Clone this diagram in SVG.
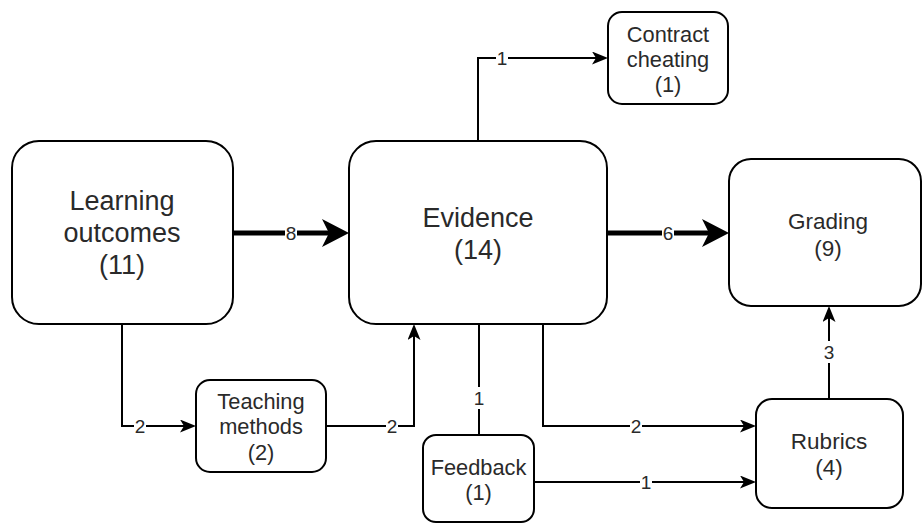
<svg xmlns="http://www.w3.org/2000/svg" width="923" height="524" viewBox="0 0 923 524">
  <style>
    .node rect { fill: #ffffff; stroke: #000000; stroke-width: 2; }
    .node text { font-family: "Liberation Sans", Arial, sans-serif; fill: #2a2a2a; text-anchor: middle; }
    .big { font-size: 27px; }
    .mid { font-size: 22.5px; }
    .small { font-size: 21.8px; }
    .edge { fill: none; stroke: #000000; stroke-width: 2; }
    .edge.thick { stroke-width: 5; }
    .lbl-bg { fill: #ffffff; }
    .lbl { font-family: "Liberation Sans", Arial, sans-serif; font-size: 19px; fill: #2a2a2a; text-anchor: middle; }
  </style>
  <defs>
    <marker id="arrow" viewBox="0 0 16 13" refX="4" refY="6.5" markerWidth="16" markerHeight="13" markerUnits="userSpaceOnUse" orient="auto">
      <path d="M0,0 L16,6.5 L0,13 L4,6.5 Z" fill="#000000"/>
    </marker>
    <marker id="arrow-thick" viewBox="0 0 27 28" refX="7" refY="14" markerWidth="27" markerHeight="28" markerUnits="userSpaceOnUse" orient="auto">
      <path d="M0,0 L27,14 L0,28 L7,14 Z" fill="#000000"/>
    </marker>
  </defs>

  <rect width="923" height="524" fill="#ffffff"/>

  <!-- connectors -->
  <g id="connectors">
    <path class="edge thick" d="M233,233 H329" marker-end="url(#arrow-thick)"/>
    <path class="edge thick" d="M607,233 H709" marker-end="url(#arrow-thick)"/>
    <path class="edge" d="M478,141 V58 H596" marker-end="url(#arrow)"/>
    <path class="edge" d="M122,324 V426 H184" marker-end="url(#arrow)"/>
    <path class="edge" d="M326,426 H414 V336" marker-end="url(#arrow)"/>
    <path class="edge" d="M479,435 V324"/>
    <path class="edge" d="M543,324 V426 H744" marker-end="url(#arrow)"/>
    <path class="edge" d="M534,482 H744" marker-end="url(#arrow)"/>
    <path class="edge" d="M829,399 V318" marker-end="url(#arrow)"/>

    <!-- edge labels -->
    <rect class="lbl-bg" x="285" y="223" width="12" height="20"/>
    <text class="lbl" x="291" y="240">8</text>
    <rect class="lbl-bg" x="662" y="223" width="12" height="20"/>
    <text class="lbl" x="668" y="240">6</text>
    <rect class="lbl-bg" x="496" y="48" width="12" height="20"/>
    <text class="lbl" x="502" y="65">1</text>
    <rect class="lbl-bg" x="134" y="416" width="12" height="20"/>
    <text class="lbl" x="140" y="433">2</text>
    <rect class="lbl-bg" x="386" y="416" width="12" height="20"/>
    <text class="lbl" x="392" y="433">2</text>
    <rect class="lbl-bg" x="473" y="387" width="12" height="22"/>
    <text class="lbl" x="479" y="405">1</text>
    <rect class="lbl-bg" x="630" y="416" width="12" height="20"/>
    <text class="lbl" x="636" y="433">2</text>
    <rect class="lbl-bg" x="640" y="472" width="12" height="20"/>
    <text class="lbl" x="646" y="489">1</text>
    <rect class="lbl-bg" x="823" y="341" width="12" height="22"/>
    <text class="lbl" x="829" y="359">3</text>
  </g>

  <!-- nodes -->
  <g id="learning-outcomes" class="node">
    <rect x="12" y="141" width="221" height="183" rx="27" ry="27"/>
    <text class="big" x="122" y="210">Learning</text>
    <text class="big" x="122" y="242">outcomes</text>
    <text class="big" x="122" y="274">(11)</text>
  </g>

  <g id="evidence" class="node">
    <rect x="349" y="141" width="258" height="183" rx="27" ry="27"/>
    <text class="big" x="478" y="227">Evidence</text>
    <text class="big" x="478" y="259">(14)</text>
  </g>

  <g id="contract-cheating" class="node">
    <rect x="608" y="12" width="120" height="92" rx="14" ry="14"/>
    <text class="small" x="668" y="42">Contract</text>
    <text class="small" x="668" y="67">cheating</text>
    <text class="small" x="668" y="92">(1)</text>
  </g>

  <g id="grading" class="node">
    <rect x="729" y="159" width="192" height="147" rx="22" ry="22"/>
    <text class="mid" x="828" y="229">Grading</text>
    <text class="mid" x="828" y="256">(9)</text>
  </g>

  <g id="teaching-methods" class="node">
    <rect x="196" y="380" width="130" height="92" rx="14" ry="14"/>
    <text class="small" x="261" y="409">Teaching</text>
    <text class="small" x="261" y="434">methods</text>
    <text class="small" x="261" y="460">(2)</text>
  </g>

  <g id="feedback" class="node">
    <rect x="423" y="435" width="111" height="87" rx="13" ry="13"/>
    <text class="small" x="478.5" y="475">Feedback</text>
    <text class="small" x="478.5" y="500">(1)</text>
  </g>

  <g id="rubrics" class="node">
    <rect x="756" y="399" width="147" height="109" rx="16" ry="16"/>
    <text class="mid" x="829" y="449">Rubrics</text>
    <text class="mid" x="829" y="475">(4)</text>
  </g>
</svg>
